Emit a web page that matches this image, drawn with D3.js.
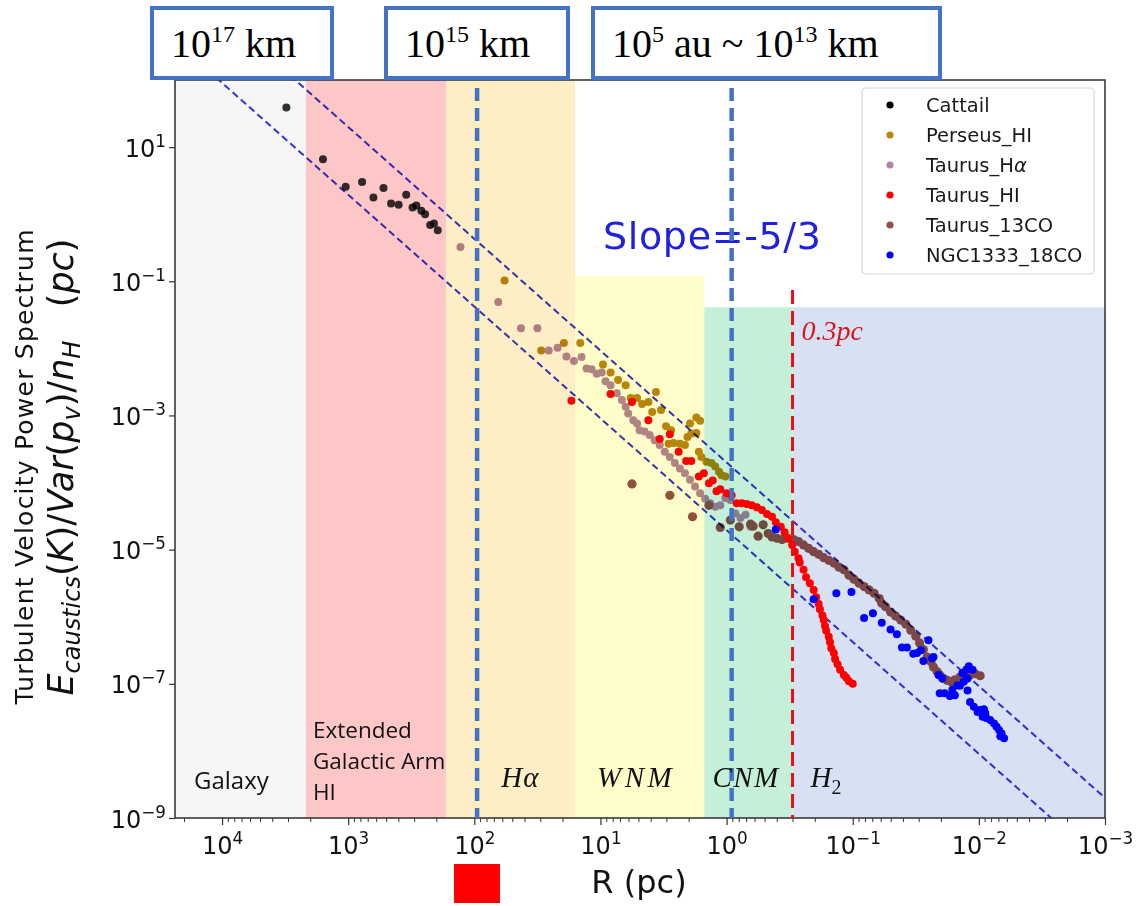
<!DOCTYPE html>
<html>
<head>
<meta charset="utf-8">
<script src="https://cdnjs.cloudflare.com/ajax/libs/d3/7.8.5/d3.min.js"></script>
<style>
  body { margin: 0; background: #fff; }
  svg { display: block; }
</style>
</head>
<body>
<div id="chart"></div>
<script>
var svgWidth = 1137;
var svgHeight = 906;

var margin = { top: 80, right: 32, bottom: 88, left: 175 };
var chartWidth = svgWidth - margin.left - margin.right;
var chartHeight = svgHeight - margin.top - margin.bottom;

// DATA: [log10 R (pc), log10 E]
var cattail = [[3.49, 1.59], [3.20, 0.82], [3.02, 0.41], [2.89, 0.48], [2.80, 0.25], [2.72, 0.39],
  [2.66, 0.16], [2.60, 0.14], [2.54, 0.29], [2.49, 0.10], [2.46, 0.13], [2.42, 0.05], [2.39, 0.00],
  [2.35, -0.16], [2.32, -0.14], [2.29, -0.24]];

var perseusHI = [[1.76, -0.99], [1.47, -2.03], [1.29, -1.92], [1.16, -1.92], [0.98, -2.24], [0.92, -2.36],
  [0.86, -2.47], [0.80, -2.55], [0.76, -2.74], [0.71, -2.74], [0.67, -2.83], [0.62, -2.80], [0.56, -2.65],
  [0.59, -2.95], [0.52, -2.92], [0.48, -3.16], [0.44, -3.22], [0.46, -3.42], [0.42, -3.41], [0.37, -3.42],
  [0.33, -3.44], [0.31, -3.32], [0.28, -3.27], [0.29, -3.12], [0.24, -3.03], [0.21, -3.08], [0.24, -3.26],
  [0.22, -3.54], [0.20, -3.62], [0.16, -3.69], [0.12, -3.71], [0.09, -3.76], [0.06, -3.84], [0.04, -3.89],
  [0.01, -3.91]];

var taurusHa = [[2.11, -0.49], [1.81, -1.31], [1.63, -1.70], [1.50, -1.70], [1.41, -2.03], [1.34, -1.99],
  [1.27, -2.12], [1.21, -2.19], [1.15, -2.13], [1.11, -2.30], [1.07, -2.31], [1.03, -2.38], [0.99, -2.36],
  [0.96, -2.49], [0.92, -2.55], [0.87, -2.67], [0.83, -2.77], [0.80, -2.87], [0.78, -2.97], [0.74, -3.07],
  [0.71, -3.12], [0.69, -3.22], [0.65, -3.24], [0.61, -3.29], [0.57, -3.37], [0.53, -3.44], [0.49, -3.54],
  [0.45, -3.62], [0.41, -3.71], [0.37, -3.79], [0.33, -3.86], [0.29, -3.96], [0.25, -4.06], [0.21, -4.16],
  [0.17, -4.24], [0.13, -4.31], [0.09, -4.36], [0.05, -4.34], [0.01, -4.23], [-0.03, -4.26], [-0.07, -4.46],
  [-0.11, -4.53], [-0.15, -4.48], [-0.19, -4.66]];

var taurusHI = [[1.23, -2.78], [0.92, -2.68], [0.75, -2.80], [0.62, -3.07], [0.53, -3.35], [0.45, -3.28],
  [0.38, -3.54], [0.32, -3.68], [0.28, -3.68], [0.22, -3.91], [0.18, -3.86], [0.14, -4.01], [0.11, -3.97],
  [0.08, -4.13], [0.05, -4.10], [0.00, -4.16], [-0.04, -4.19], [-0.08, -4.31], [-0.12, -4.31], [-0.16, -4.32],
  [-0.20, -4.34], [-0.24, -4.37], [-0.28, -4.41], [-0.32, -4.47], [-0.36, -4.51], [-0.39, -4.59], [-0.43, -4.66],
  [-0.46, -4.74], [-0.49, -4.83], [-0.52, -4.93], [-0.54, -5.03], [-0.57, -5.13], [-0.58, -5.19], [-0.61, -5.30],
  [-0.63, -5.41], [-0.66, -5.50], [-0.69, -5.60], [-0.71, -5.71], [-0.73, -5.81], [-0.74, -5.89], [-0.76, -5.98],
  [-0.77, -6.05], [-0.78, -6.14], [-0.79, -6.21], [-0.81, -6.30], [-0.82, -6.38], [-0.83, -6.47], [-0.85, -6.54],
  [-0.86, -6.63], [-0.88, -6.71], [-0.90, -6.79], [-0.93, -6.87], [-0.95, -6.91], [-0.97, -6.96], [-1.00, -7.00]];

var taurus13CO = [[0.75, -4.02], [0.45, -4.19], [0.27, -4.51], [0.14, -4.34], [0.05, -4.67], [-0.03, -4.56],
  [-0.10, -4.66], [-0.19, -4.62], [-0.21, -4.65], [-0.25, -4.80], [-0.29, -4.63], [-0.33, -4.76], [-0.36, -4.81],
  [-0.40, -4.83], [-0.44, -4.85], [-0.48, -4.83], [-0.53, -4.85], [-0.57, -4.88], [-0.61, -4.93], [-0.65, -4.98],
  [-0.69, -5.03], [-0.73, -5.07], [-0.77, -5.12], [-0.81, -5.16], [-0.85, -5.20], [-0.89, -5.26], [-0.93, -5.30],
  [-0.97, -5.38], [-1.01, -5.44], [-1.05, -5.50], [-1.09, -5.55], [-1.13, -5.60], [-1.17, -5.65], [-1.21, -5.73],
  [-1.23, -5.80], [-1.26, -5.85], [-1.30, -5.93], [-1.34, -5.99], [-1.38, -6.05], [-1.42, -6.11], [-1.46, -6.20],
  [-1.50, -6.29], [-1.53, -6.39], [-1.56, -6.49], [-1.59, -6.60], [-1.62, -6.67], [-1.64, -6.75], [-1.67, -6.82],
  [-1.69, -6.87], [-1.72, -6.92], [-1.75, -6.95], [-1.78, -6.97], [-1.81, -6.94], [-1.85, -6.90], [-1.89, -6.88],
  [-1.93, -6.87], [-1.97, -6.85], [-2.01, -6.88]];

var ngc1333 = [[-0.39, -4.70], [-0.69, -5.74], [-0.87, -5.65], [-0.99, -5.63], [-1.09, -6.02], [-1.16, -5.95],
  [-1.23, -6.09], [-1.30, -6.19], [-1.35, -6.26], [-1.39, -6.46], [-1.43, -6.46], [-1.48, -6.55], [-1.51, -6.54],
  [-1.54, -6.50], [-1.56, -6.66], [-1.60, -6.35], [-1.63, -6.62], [-1.64, -6.60], [-1.68, -6.87], [-1.71, -6.92],
  [-1.69, -7.14], [-1.73, -7.14], [-1.77, -7.18], [-1.81, -7.17], [-1.79, -7.09], [-1.83, -7.02], [-1.87, -6.84],
  [-1.90, -6.79], [-1.92, -6.74], [-1.95, -6.79], [-1.91, -6.92], [-1.88, -6.97], [-1.85, -7.03], [-1.91, -7.10],
  [-1.93, -7.27], [-1.96, -7.34], [-1.99, -7.42], [-2.01, -7.39], [-2.04, -7.38], [-2.05, -7.44], [-2.03, -7.49],
  [-2.06, -7.51], [-2.09, -7.54], [-2.12, -7.59], [-2.14, -7.64], [-2.16, -7.69], [-2.18, -7.74], [-2.20, -7.81],
  [-2.17, -7.78]];

var seriesNames = ["Cattail", "Perseus_HI", "Taurus_H\u03b1", "Taurus_HI", "Taurus_13CO", "NGC1333_18CO"];
var seriesData = [cattail, perseusHI, taurusHa, taurusHI, taurus13CO, ngc1333];
var seriesColors = ["#000000", "#b8860b", "#b285a8", "#ff0000", "#94504a", "#0000ff"];

// background regions (R in pc)
var bandNames = ["Galaxy", "Extended Galactic Arm HI", "H\u03b1", "WNM", "CNM", "H2"];
var bandFrom = [10 ** 4.373, 2160, 167, 15.9, 1.5, 0.3];
var bandTo = [2160, 167, 15.9, 1.5, 0.3, 1e-3];
var bandTop = [1e2, 1e2, 1e2, 0.12, 0.041, 0.041];
var bandColors = ["#f6f6f6", "#fdc7c8", "#fdeec6", "#fefdc9", "#c5f0d8", "#d7e1f3"];

// -5/3 guide lines: log10 E at R = 1 pc
var guideOffsets = [-3.70, -4.71];
var guideSlope = 5 / 3;

// marker lines
var blueLinesR = [10 ** 1.978, 10 ** -0.04];
var redLineR = 0.3;

var xMajor = [1e4, 1e3, 1e2, 1e1, 1e0, 1e-1, 1e-2, 1e-3];
var yMajor = [1e1, 1e-1, 1e-3, 1e-5, 1e-7, 1e-9];

var topBoxes = [
  { parts: [["10", 0], ["17", 1], [" km", 0]], x0: 152, x1: 332 },
  { parts: [["10", 0], ["15", 1], [" km", 0]], x0: 386, x1: 568 },
  { parts: [["10", 0], ["5", 1], [" au ~ 10", 0], ["13", 1], [" km", 0]], x0: 593, x1: 940 }
];

var svg = d3.select("#chart")
  .append("svg")
  .attr("width", svgWidth)
  .attr("height", svgHeight);

svg.append("rect").attr("width", svgWidth).attr("height", svgHeight).attr("fill", "#fff");

var chartGroup = svg.append("g")
  .attr("transform", `translate(${margin.left}, ${margin.top})`);

var x = d3.scaleLog().domain([10 ** 4.373, 1e-3]).range([0, chartWidth]);
var y = d3.scaleLog().domain([1e-9, 1e2]).range([chartHeight, 0]);

chartGroup.append("clipPath").attr("id", "plotClip")
  .append("rect").attr("width", chartWidth).attr("height", chartHeight);

// BANDS
chartGroup.selectAll("rect.band")
  .data(bandNames)
  .enter()
  .append("rect")
  .attr("class", "band")
  .attr("x", (d, i) => x(bandFrom[i]))
  .attr("width", (d, i) => x(bandTo[i]) - x(bandFrom[i]))
  .attr("y", (d, i) => y(bandTop[i]))
  .attr("height", (d, i) => chartHeight - y(bandTop[i]))
  .attr("fill", (d, i) => bandColors[i]);

// GUIDE LINES
var guideGroup = chartGroup.append("g")
  .attr("clip-path", "url(#plotClip)")
  .style("mix-blend-mode", "multiply");

guideOffsets.forEach(function(off) {
  var ends = x.domain().map(r => [r, 10 ** (off + guideSlope * Math.log10(r))]);
  guideGroup.append("path")
    .attr("d", d3.line().x(d => x(d[0])).y(d => y(d[1]))(ends))
    .attr("fill", "none")
    .attr("stroke", "#3434dc")
    .attr("stroke-width", 2)
    .attr("stroke-dasharray", "7,4");
});

// POINTS (tinted series are blended with the bands, the others sit on top)
var tintGroup = chartGroup.append("g")
  .attr("clip-path", "url(#plotClip)")
  .style("mix-blend-mode", "multiply");
var plainGroup = chartGroup.append("g")
  .attr("clip-path", "url(#plotClip)");

function drawSeries(group, si, r, opacity) {
  group.append("g")
    .selectAll("circle")
    .data(seriesData[si])
    .enter()
    .append("circle")
    .attr("cx", d => x(10 ** d[0]))
    .attr("cy", d => y(10 ** d[1]))
    .attr("r", r)
    .attr("fill", seriesColors[si])
    .attr("fill-opacity", opacity);
}
drawSeries(tintGroup, 1, 4, 1);
drawSeries(tintGroup, 2, 4, 1);
drawSeries(tintGroup, 4, 4.6, 1);
drawSeries(plainGroup, 0, 4, 0.8);
drawSeries(plainGroup, 3, 4, 1);
drawSeries(plainGroup, 5, 4, 1);

// SLOPE TEXT
chartGroup.append("text")
  .attr("x", 603 - margin.left)
  .attr("y", 249 - margin.top)
  .attr("font-family", "DejaVu Sans, sans-serif")
  .attr("font-size", 38)
  .attr("fill", "#2020e0")
  .attr("textLength", 218)
  .text("Slope=-5/3");

// LEGEND
var legend = chartGroup.append("g")
  .attr("transform", `translate(${862 - margin.left}, ${88 - margin.top})`);
legend.append("rect")
  .attr("width", 232).attr("height", 186).attr("rx", 4)
  .attr("fill", "#fff").attr("fill-opacity", 0.85)
  .attr("stroke", "#d6d6d6").attr("stroke-width", 1.2);
seriesNames.forEach(function(name, i) {
  var row = legend.append("g").attr("transform", `translate(0, ${17 + i * 30})`);
  row.append("circle").attr("cx", 28).attr("cy", 0).attr("r", 3.6).attr("fill", seriesColors[i]);
  var t = row.append("text")
    .attr("x", 64).attr("y", 7)
    .attr("font-family", "DejaVu Sans, sans-serif")
    .attr("font-size", 19.5)
    .attr("fill", "#1a1a1a");
  if (name.indexOf("\u03b1") >= 0) {
    t.append("tspan").text("Taurus_H");
    t.append("tspan").attr("font-style", "italic").text("\u03b1");
  } else {
    t.text(name);
  }
});

// AXES
function supLabel(sel, d, size) {
  var e = Math.round(Math.log10(d));
  sel.text(null);
  sel.append("tspan").text("10");
  sel.append("tspan")
    .attr("font-size", size * 0.7)
    .attr("dy", -size * 0.42)
    .text(e < 0 ? "\u2212" + (-e) : String(e));
}

var minorTicks = [];
for (var p = -3; p <= 4; p++) {
  for (var k = 2; k <= 9; k++) {
    var v = k * 10 ** p;
    if (v < x.domain()[0]) minorTicks.push(v);
  }
}

chartGroup.append("g")
  .attr("transform", `translate(0, ${chartHeight})`)
  .call(d3.axisBottom(x).tickValues(minorTicks).tickSize(4).tickFormat(""))
  .call(g => g.select(".domain").remove())
  .call(g => g.selectAll("line").attr("stroke", "#333"));

var xAxis = chartGroup.append("g")
  .attr("transform", `translate(0, ${chartHeight})`)
  .call(d3.axisBottom(x).tickValues(xMajor).tickSize(7));
xAxis.select(".domain").remove();
xAxis.selectAll("line").attr("stroke", "#333").attr("stroke-width", 1.2);
xAxis.selectAll("text")
  .attr("y", 36).attr("dy", 0)
  .attr("font-family", "DejaVu Sans, sans-serif")
  .attr("font-size", 24)
  .attr("fill", "#111")
  .each(function(d) { supLabel(d3.select(this), d, 24); });

var yAxis = chartGroup.append("g")
  .call(d3.axisLeft(y).tickValues(yMajor).tickSize(6));
yAxis.select(".domain").remove();
yAxis.selectAll("line").attr("stroke", "#333").attr("stroke-width", 1.2);
yAxis.selectAll("text")
  .attr("x", -9).attr("dy", "0.38em")
  .attr("font-family", "DejaVu Sans, sans-serif")
  .attr("font-size", 24)
  .attr("fill", "#111")
  .each(function(d) { supLabel(d3.select(this), d, 24); });

chartGroup.append("rect")
  .attr("width", chartWidth).attr("height", chartHeight)
  .attr("fill", "none").attr("stroke", "#3a3a3a").attr("stroke-width", 1.6);

// VERTICAL MARKERS
blueLinesR.forEach(function(r) {
  chartGroup.append("line")
    .attr("x1", x(r)).attr("x2", x(r))
    .attr("y1", y(10 ** 1.88)).attr("y2", chartHeight)
    .attr("stroke", "#4472c4").attr("stroke-width", 4.5)
    .attr("stroke-dasharray", "13,7");
});
chartGroup.append("line")
  .attr("x1", x(redLineR)).attr("x2", x(redLineR))
  .attr("y1", y(10 ** -1.13)).attr("y2", chartHeight)
  .attr("stroke", "#e3101a").attr("stroke-width", 3)
  .attr("stroke-dasharray", "14,7");
chartGroup.append("text")
  .attr("x", x(redLineR) + 9).attr("y", 340 - margin.top)
  .attr("font-family", "Liberation Serif, serif")
  .attr("font-style", "italic")
  .attr("font-size", 28)
  .attr("fill", "#d9151b")
  .text("0.3pc");

// BAND LABELS
var labelY = 787 - margin.top;
chartGroup.append("text")
  .attr("x", x(bandFrom[0]) + 19).attr("y", labelY + 2)
  .attr("font-family", "Open Sans, sans-serif").attr("font-size", 24)
  .attr("fill", "#111").text("Galaxy");
["Extended", "Galactic Arm", "HI"].forEach(function(line, i) {
  chartGroup.append("text")
    .attr("x", x(bandFrom[1]) + 7).attr("y", 738 - margin.top + i * 31)
    .attr("font-family", "Open Sans, sans-serif").attr("font-size", 22.5)
    .attr("fill", "#111").text(line);
});
var serifLabels = [[2, 55, "H\u03b1", 1], [3, 22, "WNM", 3.5], [4, 8, "CNM", 1.5]];
serifLabels.forEach(function(s) {
  chartGroup.append("text")
    .attr("x", x(bandFrom[s[0]]) + s[1]).attr("y", labelY)
    .attr("font-family", "Liberation Serif, serif").attr("font-style", "italic")
    .attr("font-size", 29).attr("letter-spacing", s[3])
    .attr("fill", "#111").text(s[2]);
});
var h2 = chartGroup.append("text")
  .attr("x", x(bandFrom[5]) + 18).attr("y", labelY)
  .attr("font-family", "Liberation Serif, serif").attr("font-style", "italic")
  .attr("font-size", 29).attr("fill", "#111");
h2.append("tspan").text("H");
h2.append("tspan").attr("font-style", "normal").attr("font-size", 20).attr("dy", 7).text("2");

// TOP BOXES
topBoxes.forEach(function(b) {
  svg.append("rect")
    .attr("x", b.x0).attr("y", 8)
    .attr("width", b.x1 - b.x0).attr("height", 70)
    .attr("fill", "#fff").attr("stroke", "#4472c4").attr("stroke-width", 4);
  var t = svg.append("text")
    .attr("x", b.x0 + 19).attr("y", 57)
    .attr("font-family", "Liberation Serif, serif")
    .attr("font-size", 40)
    .attr("fill", "#000")
    .style("white-space", "pre");
  var up = false;
  b.parts.forEach(function(part) {
    var ts = t.append("tspan").text(part[0]);
    if (part[1] && !up) { ts.attr("font-size", 24).attr("dy", -15); up = true; }
    else if (!part[1] && up) { ts.attr("dy", 15); up = false; }
  });
});

// AXIS TITLES
svg.append("text")
  .attr("transform", "translate(639, 893)")
  .attr("text-anchor", "middle")
  .attr("font-family", "DejaVu Sans, sans-serif")
  .attr("font-size", 32)
  .attr("fill", "#111")
  .text("R (pc)");

svg.append("text")
  .attr("transform", "translate(33, 467) rotate(-90)")
  .attr("text-anchor", "middle")
  .attr("font-family", "DejaVu Sans, sans-serif")
  .attr("font-size", 25)
  .attr("fill", "#111")
  .attr("textLength", 475)
  .text("Turbulent Velocity Power Spectrum");

var eLabel = svg.append("text")
  .attr("transform", "translate(73, 467) rotate(-90)")
  .attr("text-anchor", "middle")
  .attr("font-family", "DejaVu Sans, sans-serif")
  .attr("font-size", 35)
  .attr("fill", "#111")
  .style("white-space", "pre");
var eParts = [
  ["E", 1, 0], ["caustics", 1, 1], ["(", 0, 0], ["K", 1, 0], [")/", 0, 0], ["Var", 1, 0], ["(", 0, 0],
  ["p", 1, 0], ["v", 1, 1], [")/", 0, 0], ["n", 1, 0], ["H", 1, 1], ["   (", 0, 0], ["pc", 1, 0], [")", 0, 0]
];
var inSub = false;
eParts.forEach(function(p) {
  var ts = eLabel.append("tspan").text(p[0]);
  if (p[1]) ts.attr("font-style", "italic");
  if (p[2]) {
    ts.attr("font-size", 24);
    if (!inSub) { ts.attr("dy", 7); inSub = true; }
  } else if (inSub) {
    ts.attr("dy", -7); inSub = false;
  }
});

// RED MARKER BELOW AXIS
svg.append("rect")
  .attr("x", 454).attr("y", 864)
  .attr("width", 46).attr("height", 39)
  .attr("fill", "#ff0000");
</script>
</body>
</html>
